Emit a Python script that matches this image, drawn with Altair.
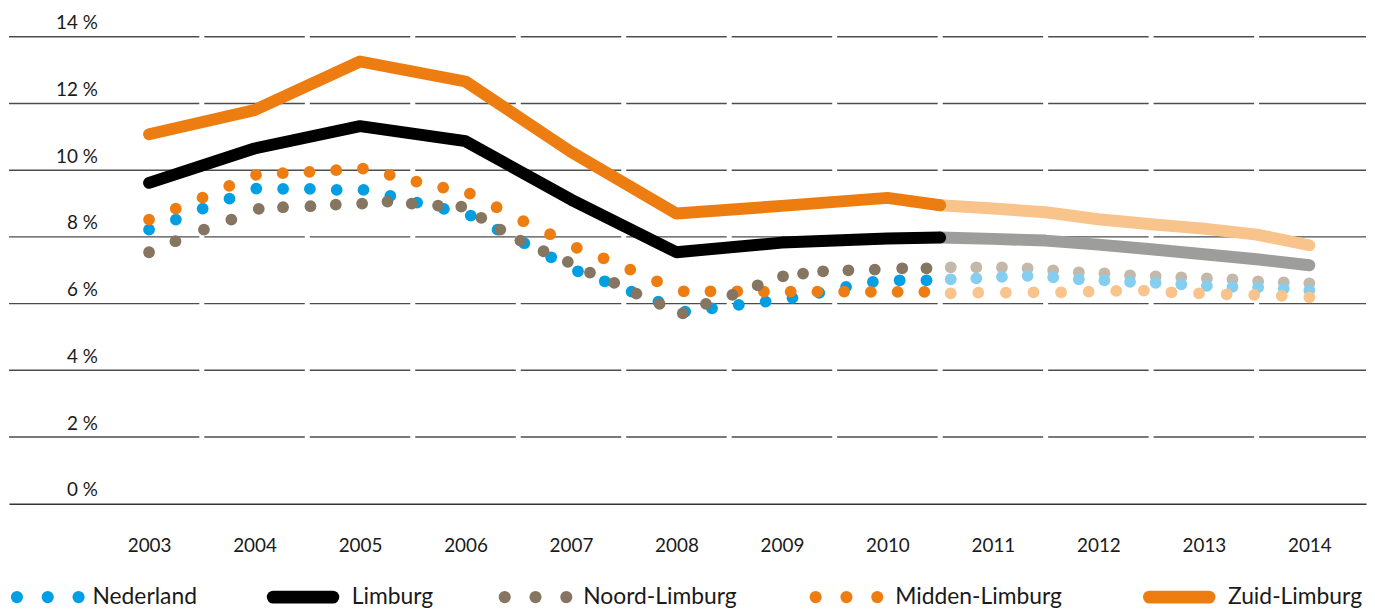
import altair as alt
import pandas as pd
import numpy as np

# ---------------- data ----------------
years = list(range(2003, 2015))
y_ticks = [0, 2, 4, 6, 8, 10, 12, 14]

# solid lines: yearly up to mid-2010, then forecast (half-yearly)
line_t_actual = [2003, 2004, 2005, 2006, 2007, 2008, 2009, 2010, 2010.5]
limburg_actual = [9.62, 10.65, 11.32, 10.87, 9.12, 7.54, 7.83, 7.95, 7.98]
zuid_actual = [11.08, 11.80, 13.26, 12.66, 10.55, 8.70, 8.93, 9.17, 8.95]
line_t_forecast = [2010.5, 2011, 2011.5, 2012, 2012.5, 2013, 2013.5, 2014]
limburg_forecast = [7.98, 7.94, 7.89, 7.77, 7.63, 7.48, 7.33, 7.15]
zuid_forecast = [8.95, 8.85, 8.74, 8.53, 8.38, 8.25, 8.07, 7.75]

# dotted series (quarterly-ish observations)
nederland_actual = [8.22, 8.52, 8.85, 9.15, 9.45, 9.44, 9.44, 9.41, 9.41, 9.23,
                    9.03, 8.84, 8.64, 8.22, 7.81, 7.39, 6.97, 6.67, 6.36, 6.06,
                    5.76, 5.86, 5.96, 6.06, 6.17, 6.32, 6.50, 6.65, 6.70, 6.70]
nederland_forecast = [6.73, 6.76, 6.80, 6.83, 6.79, 6.73, 6.70, 6.65, 6.62, 6.58,
                      6.53, 6.50, 6.49, 6.45, 6.40]

noord_t_actual = [2003.00, 2003.25, 2003.52, 2003.78, 2004.04, 2004.27, 2004.53,
                  2004.77, 2005.02, 2005.26, 2005.49, 2005.74, 2005.96, 2006.15,
                  2006.33, 2006.52, 2006.74, 2006.97, 2007.18, 2007.41, 2007.62,
                  2007.84, 2008.06, 2008.28, 2008.53, 2008.77, 2009.01, 2009.20,
                  2009.39, 2009.63, 2009.88, 2010.14, 2010.37]
noord_actual = [7.54, 7.87, 8.22, 8.52, 8.84, 8.89, 8.92, 8.97, 9.00, 9.06,
                9.00, 8.94, 8.91, 8.57, 8.22, 7.89, 7.57, 7.25, 6.93, 6.62,
                6.30, 5.99, 5.71, 5.99, 6.26, 6.55, 6.82, 6.90, 6.97, 7.00,
                7.02, 7.06, 7.06]
noord_forecast = [7.09, 7.09, 7.09, 7.06, 7.00, 6.94, 6.91, 6.85, 6.82, 6.79,
                  6.76, 6.73, 6.67, 6.64, 6.61]

midden_actual = [8.52, 8.85, 9.18, 9.53, 9.86, 9.91, 9.95, 10.00, 10.05, 9.86,
                 9.66, 9.48, 9.30, 8.89, 8.47, 8.08, 7.67, 7.36, 7.02, 6.67,
                 6.37, 6.37, 6.37, 6.36, 6.36, 6.36, 6.36, 6.35, 6.35, 6.35]
midden_forecast = [6.31, 6.33, 6.33, 6.34, 6.34, 6.36, 6.38, 6.39, 6.34, 6.31,
                   6.28, 6.26, 6.23, 6.19]

series_names = ["Nederland", "Limburg", "Noord-Limburg", "Midden-Limburg", "Zuid-Limburg"]

# ---------------- styling ----------------
COL = {
    "Nederland": ("#009FE3", "#86CEF0"),
    "Limburg": ("#000000", "#9D9D9C"),
    "Noord-Limburg": ("#857561", "#C4B8A9"),
    "Midden-Limburg": ("#EE7D11", "#F9C38C"),
    "Zuid-Limburg": ("#EE7D11", "#F9C38C"),
}
FONT = "Lato"
TXT = "#1a1a1a"
DOT = 140

W, H = 1366, 497
px_per_year = 106.18
d0 = 2003 - 141 / px_per_year
d1 = d0 + W / px_per_year
y_max = 14 * H / 470

xs = alt.Scale(domain=[d0, d1], nice=False, zero=False)
ys = alt.Scale(domain=[0, y_max], nice=False, zero=False)

# ---------------- tables ----------------
def line_df(t, v, name, phase):
    c = COL[name][0 if phase == "a" else 1]
    return pd.DataFrame({"t": t, "v": v, "series": name + phase, "color": c})

lines_forecast = pd.concat([
    line_df(line_t_forecast, limburg_forecast, "Limburg", "f"),
    line_df(line_t_forecast, zuid_forecast, "Zuid-Limburg", "f"),
])
lines_actual = pd.concat([
    line_df(line_t_actual, limburg_actual, "Limburg", "a"),
    line_df(line_t_actual, zuid_actual, "Zuid-Limburg", "a"),
])

def dot_df(t, v, name, phase):
    c = COL[name][0 if phase == "a" else 1]
    return pd.DataFrame({"t": t, "v": v, "color": c})

dots_actual = pd.concat([
    dot_df(np.linspace(2003.0, 2010.37, len(nederland_actual)), nederland_actual, "Nederland", "a"),
    dot_df(np.linspace(2003.0, 2010.35, len(midden_actual)), midden_actual, "Midden-Limburg", "a"),
    dot_df(noord_t_actual, noord_actual, "Noord-Limburg", "a"),
])
dots_forecast = pd.concat([
    dot_df(np.linspace(2010.6, 2014.0, len(noord_forecast)), noord_forecast, "Noord-Limburg", "f"),
    dot_df(np.linspace(2010.6, 2014.0, len(nederland_forecast)), nederland_forecast, "Nederland", "f"),
    dot_df(np.linspace(2010.6, 2014.0, len(midden_forecast)), midden_forecast, "Midden-Limburg", "f"),
])

# segmented grid lines, broken at every year boundary
half_gap = 2.5 / px_per_year
bounds = [d0] + [yr + 0.5 for yr in years[:-1]] + [d1]
seg_rows = []
for yv in y_ticks[1:]:
    for i in range(len(bounds) - 1):
        a = bounds[i] + (half_gap if i > 0 else 0)
        b = bounds[i + 1] - (half_gap if i + 1 < len(bounds) - 1 else 0)
        seg_rows.append({"x": a, "x2": b, "y": yv})
grid_df = pd.DataFrame(seg_rows)

# ---------------- layers ----------------
grid = alt.Chart(grid_df).mark_rule(color="#4d4d4d", strokeWidth=1.4).encode(
    x=alt.X("x:Q", scale=xs, title=None,
            axis=alt.Axis(values=years, format="d", ticks=False, grid=False,
                          domain=True, domainColor="#333333", domainWidth=1.5,
                          labelFont=FONT, labelFontSize=19, labelColor=TXT,
                          labelPadding=33, labelFlush=False)),
    x2="x2:Q",
    y=alt.Y("y:Q", scale=ys, title=None,
            axis=alt.Axis(values=y_ticks, orient="left", offset=-89, ticks=False,
                          domain=False, grid=False,
                          labelExpr="datum.value + ' %'", labelAlign="right",
                          labelBaseline="alphabetic", labelOffset=-8, labelPadding=0,
                          labelFont=FONT, labelFontSize=19, labelColor=TXT)),
)

fl = alt.Chart(lines_forecast).mark_line(strokeWidth=12, strokeCap="round", strokeJoin="round").encode(
    x=alt.X("t:Q", scale=xs), y=alt.Y("v:Q", scale=ys),
    detail="series:N", color=alt.Color("color:N", scale=None),
)
al = alt.Chart(lines_actual).mark_line(strokeWidth=12, strokeCap="round", strokeJoin="round").encode(
    x=alt.X("t:Q", scale=xs), y=alt.Y("v:Q", scale=ys),
    detail="series:N", color=alt.Color("color:N", scale=None),
)
dd = alt.Chart(dots_actual).mark_circle(size=DOT, opacity=1).encode(
    x=alt.X("t:Q", scale=xs), y=alt.Y("v:Q", scale=ys),
    color=alt.Color("color:N", scale=None),
)
df_ = alt.Chart(dots_forecast).mark_circle(size=DOT, opacity=1).encode(
    x=alt.X("t:Q", scale=xs), y=alt.Y("v:Q", scale=ys),
    color=alt.Color("color:N", scale=None),
)

# ---------------- custom legend (three dots / bar + label) ----------------
leg_y = 591
leg_dot_rows, leg_bar_rows, leg_txt_rows = [], [], []
dot_starts = {"Nederland": 8, "Noord-Limburg": 499, "Midden-Limburg": 812}
bar_starts = {"Limburg": 266, "Zuid-Limburg": 1148}
label_x = {"Nederland": 84, "Limburg": 345, "Noord-Limburg": 578,
           "Midden-Limburg": 892, "Zuid-Limburg": 1227}
for name in series_names:
    c = COL[name][0]
    if name in dot_starts:
        for k in range(3):
            leg_dot_rows.append({"px": dot_starts[name] + 31 * k, "color": c})
    else:
        leg_bar_rows.append({"px": bar_starts[name], "px2": bar_starts[name] + 60, "color": c})
    leg_txt_rows.append({"px": label_x[name], "label": name})

leg_dots = alt.Chart(pd.DataFrame(leg_dot_rows)).mark_circle(size=150, opacity=1).encode(
    x=alt.X("px:Q", scale=None, axis=None), y=alt.value(leg_y),
    color=alt.Color("color:N", scale=None),
)
leg_bars = alt.Chart(pd.DataFrame(leg_bar_rows)).mark_rule(strokeWidth=13, strokeCap="round").encode(
    x=alt.X("px:Q", scale=None, axis=None), x2="px2:Q", y=alt.value(leg_y),
    color=alt.Color("color:N", scale=None),
)
leg_txt = alt.Chart(pd.DataFrame(leg_txt_rows)).mark_text(
    align="left", baseline="middle", font=FONT, fontSize=23, color=TXT
).encode(
    x=alt.X("px:Q", scale=None, axis=None), y=alt.value(leg_y), text="label:N",
)

chart = alt.layer(grid, fl, al, dd, df_, leg_dots, leg_bars, leg_txt).properties(
    width=W, height=H, padding=0, background="white"
).configure_view(strokeWidth=0, strokeOpacity=0)

chart.save("out.html", embed_options={"renderer": "svg", "actions": False})
